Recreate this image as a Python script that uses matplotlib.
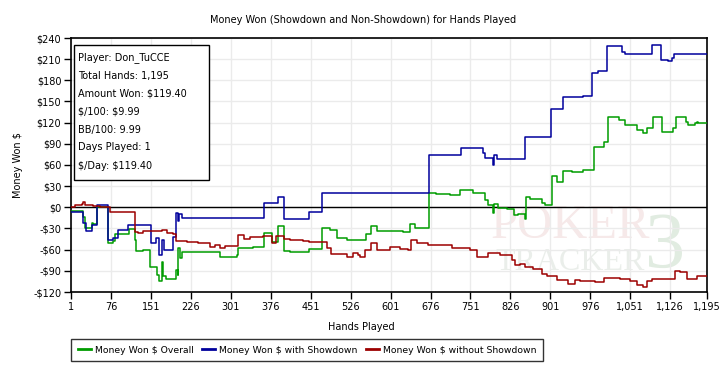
import matplotlib
matplotlib.use("Agg")
import matplotlib.pyplot as plt
from matplotlib.patches import Rectangle

# --- datos (mano, $ acumulado) ---
hands_sd = [1, 23, 30, 40, 50, 71, 80, 89, 108, 151, 161, 166, 172, 176, 193, 199, 202, 204,
            209, 364, 389, 400, 448, 472, 673, 733, 774, 779, 793, 795, 800, 854, 880, 903,
            925, 962, 980, 991, 1008, 1035, 1041, 1075, 1091, 1109, 1121, 1129, 1133, 1195]
won_sd = [-6, -22, -34, -25, 4, -46, -43, -32, -25, -51, -44, -68, -46, -60, -42, -8, -20, -10,
          -15, 6, 14, -17, -7, 21, 74, 84, 77, 70, 60, 74, 68, 99, 100, 139,
          156, 158, 191, 193, 229, 220, 218, 217, 230, 209, 207, 212, 217, 217]

hands_all = [1, 21, 23, 27, 40, 43, 50, 71, 80, 84, 109, 121, 123, 136, 149, 162, 167, 172,
             174, 179, 193, 198, 201, 202, 206, 209, 243, 281, 312, 315, 343, 364, 378, 389,
             400, 412, 448, 472, 487, 500, 519, 555, 565, 575, 625, 637, 647, 673, 687, 712,
             731, 755, 778, 784, 793, 795, 803, 819, 833, 840, 853, 856, 863, 885, 891, 904,
             913, 925, 942, 963, 982, 1001, 1010, 1029, 1041, 1063, 1075, 1082, 1093, 1110,
             1132, 1137, 1156, 1160, 1173, 1176, 1179, 1195]
won_all = [-5, -5, -13, -30, -22, -24, 1, -50, -48, -38, -31, -46, -62, -60, -85, -96, -104, -78,
           -98, -101, -102, -89, -96, -58, -72, -63, -64, -70, -68, -58, -56, -36, -49, -27,
           -62, -64, -59, -30, -32, -44, -46, -38, -27, -34, -35, -24, -29, 21, 19, 17,
           24, 20, 10, 3, -8, 5, -1, -2, -11, -9, -16, 15, 12, 6, 3, 44,
           36, 52, 50, 53, 85, 92, 128, 124, 117, 110, 106, 112, 128, 107,
           112, 128, 121, 117, 119, 121, 119, 119]

hands_nsd = [1, 8, 21, 23, 27, 43, 55, 71, 74, 80, 102, 121, 127, 137, 171, 181, 193, 199,
             218, 240, 262, 271, 281, 290, 312, 315, 325, 337, 362, 378, 386, 400, 412, 437,
             448, 481, 490, 519, 531, 540, 543, 553, 565, 575, 600, 619, 634, 639, 650, 672,
             716, 750, 764, 784, 806, 828, 834, 844, 853, 868, 885, 894, 914, 934, 947, 956,
             969, 985, 1001, 1031, 1050, 1063, 1075, 1082, 1091, 1135, 1144, 1157, 1176, 1182, 1195]
won_nsd = [1, 3, 5, 7, 3, 2, 1, 0, -6, -7, -6, -35, -37, -34, -32, -36, -38, -48,
           -49, -51, -56, -54, -58, -55, -55, -39, -45, -42, -41, -51, -41, -45, -46, -48,
           -49, -58, -66, -70, -65, -68, -70, -60, -51, -61, -56, -59, -60, -46, -51, -53,
           -58, -60, -70, -65, -68, -74, -82, -80, -85, -88, -95, -98, -103, -108, -103, -105,
           -104, -106, -100, -102, -104, -110, -113, -104, -101, -90, -92, -101, -97, -98, -98]

info_lines = ["Player: Don_TuCCE", "Total Hands: 1,195", "Amount Won: $119.40",
              "$/100: $9.99", "BB/100: 9.99", "Days Played: 1", "$/Day: $119.40"]

x_ticks = [1, 76, 151, 226, 301, 376, 451, 526, 601, 676, 751, 826, 901, 976, 1051, 1126, 1195]
y_ticks = list(range(-120, 241, 30))

W, H = 727, 378
FS = 7
plt.rcParams['font.family'] = 'DejaVu Sans'
plt.rcParams['font.size'] = FS
plt.rcParams['text.parse_math'] = False

fig = plt.figure(figsize=(W / 100, H / 100), dpi=100)
ax = fig.add_axes([71 / W, 1 - 292 / H, (707 - 71) / W, (292 - 38) / H])

# marca de agua
ax.text(0.785, 0.2126, "POKER", transform=ax.transAxes, ha="center", va="baseline",
        fontsize=35, family="Liberation Serif", color="#f6e9e9", zorder=0)
ax.text(0.785, 0.0866, "TRACKER", transform=ax.transAxes, ha="center", va="baseline",
        fontsize=23, family="Liberation Serif", color="#eaeeea", zorder=0)
ax.text(0.934, 0.0945, "3", transform=ax.transAxes, ha="center", va="baseline",
        fontsize=58, family="Liberation Serif", color="#e1ece1", zorder=0)

ax.plot(hands_all, won_all, drawstyle="steps-post", color="#009c00", lw=1.1,
        label="Money Won $ Overall", zorder=3)
ax.plot(hands_sd, won_sd, drawstyle="steps-post", color="#00009c", lw=1.1,
        label="Money Won $ with Showdown", zorder=3)
ax.plot(hands_nsd, won_nsd, drawstyle="steps-post", color="#9c0000", lw=1.1,
        label="Money Won $ without Showdown", zorder=3)
ax.axhline(0, color="black", lw=1.0, zorder=2)

ax.set_xlim(1, 1195)
ax.set_ylim(-120, 240)
ax.set_xticks(x_ticks)
ax.set_xticklabels([f"{t:,}" for t in x_ticks])
ax.set_yticks(y_ticks)
ax.set_yticklabels([f"-${-v}" if v < 0 else f"${v}" for v in y_ticks])
ax.grid(True, color="#ebebeb", lw=1.0, zorder=0)
ax.set_axisbelow(True)
ax.tick_params(direction="out", length=5, width=1, pad=2, labelsize=FS)
for s in ax.spines.values():
    s.set_linewidth(1.2)
    s.set_color("black")

ax.set_xlabel("Hands Played", fontsize=FS)
ax.xaxis.set_label_coords((361.5 - 71) / 636, (292 - 322) / 254)
ax.set_ylabel("Money Won $", fontsize=FS)
ax.yaxis.set_label_coords((23 - 71) / 636, 0.5)
fig.text(363 / W, 1 - 20 / H, "Money Won (Showdown and Non-Showdown) for Hands Played",
         ha="center", va="center", fontsize=FS)

# cuadro de informacion
fig.add_artist(Rectangle((74 / W, 1 - 180 / H), 135 / W, 135 / H, transform=fig.transFigure,
                         facecolor="white", edgecolor="black", lw=1.0, zorder=5))
for i, line in enumerate(info_lines):
    fig.text(78 / W, 1 - (57.5 + 18 * i) / H, line, ha="left", va="center",
             fontsize=FS, zorder=6)

leg = fig.legend(loc="upper left", bbox_to_anchor=(71 / W, 1 - 339 / H), ncol=3,
                 frameon=True, fancybox=False, edgecolor="black", fontsize=6.7,
                 handlelength=1.4, handletextpad=0.45, columnspacing=0.9,
                 borderpad=0.7, borderaxespad=0)
leg.get_frame().set_linewidth(1.0)
for h in leg.get_lines():
    h.set_linewidth(2)

fig.savefig("out.png", dpi=100)
